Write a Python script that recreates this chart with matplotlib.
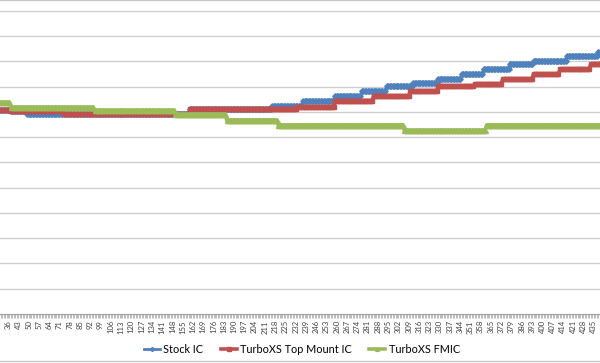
import numpy as np
import matplotlib
matplotlib.use("Agg")
from matplotlib import pyplot as plt
from matplotlib.lines import Line2D

plt.rcParams['font.family'] = ['Lato', 'DejaVu Sans']

# category axis: sample numbers 1..440, every 7th one labelled
categories = np.arange(1, 441)
tick_labels = [str(c) for c in range(1, 441, 7)]

# each series is a stepped trace: (first category of the step, value)
stock_starts = [1, 38, 49, 160, 216, 237, 259, 277, 294, 312, 329, 345, 360, 378, 394, 417, 438]
stock_levels = [80.8, 80.2, 79.0, 81.0, 82.4, 84.2, 86.1, 88.1, 90.1, 91.3, 92.9, 95.0, 97.0, 99.0, 100.2, 102.2, 103.8]

topmount_starts = [1, 38, 74, 160, 233, 259, 285, 310, 329, 354, 373, 394, 412, 433]
topmount_levels = [80.8, 80.2, 79.0, 81.0, 82.0, 84.5, 86.3, 88.3, 90.1, 91.1, 93.1, 95.0, 97.0, 99.0]

fmic_starts = [1, 38, 95, 150, 185, 220, 306, 362]
fmic_levels = [83.8, 81.8, 80.6, 79.0, 76.8, 74.8, 72.7, 74.8]


def expand(starts, levels):
    """turn the step list into one value per category"""
    ends = starts[1:] + [categories[-1] + 1]
    counts = [e - s for s, e in zip(starts, ends)]
    return np.repeat(levels, counts)


stock = expand(stock_starts, stock_levels)
topmount = expand(topmount_starts, topmount_levels)
fmic = expand(fmic_starts, fmic_levels)

fig = plt.figure(figsize=(6, 3.63), dpi=100)
ax = fig.add_axes([0, 0.135, 1, 0.865])

ax.plot(categories, stock, color='#4F81BD', lw=2.0, marker='D', ms=2.8,
        label='Stock IC')
ax.plot(categories, topmount, color='#C0504D', lw=2.6, marker='s', ms=3.4,
        label='TurboXS Top Mount IC')
ax.plot(categories, fmic, color='#9BBB59', lw=2.6, marker='^', ms=3.6,
        label='TurboXS FMIC')

ax.set_yticks(np.arange(10, 121, 10))
ax.yaxis.grid(True, color='#D0D0D0', lw=1)
ax.set_axisbelow(True)
ax.tick_params(axis='y', left=False, labelleft=False)

ax.set_xticks(range(1, 441, 7))
ax.set_xticklabels(tick_labels, rotation=90, fontsize=5.5, color='#404040')
ax.set_xticks(categories, minor=True)
ax.tick_params(axis='x', which='both', length=3, width=0.5, color='#A0A0A0', pad=1.5)

# limits after the ticks, so the crop on the left stays
ax.set_xlim(30.55, 439.3)
ax.set_ylim(0, 124.3)

for side in ['left', 'right', 'top']:
    ax.spines[side].set_visible(False)
ax.spines['bottom'].set_color('#A0A0A0')
ax.spines['bottom'].set_linewidth(0.8)

fig.legend(loc='center', bbox_to_anchor=(0.503, 0.038), ncol=3, frameon=False,
           fontsize=7.8, handlelength=1.5, columnspacing=1.6, handletextpad=0.3,
           markerscale=0.75)

# chart border crops at top and bottom
fig.add_artist(Line2D([0, 1], [0.999, 0.999], color='#C8C8C8', lw=1))
fig.add_artist(Line2D([0, 1], [0.005, 0.005], color='#C8C8C8', lw=1))

fig.savefig('out.png', dpi=100)
